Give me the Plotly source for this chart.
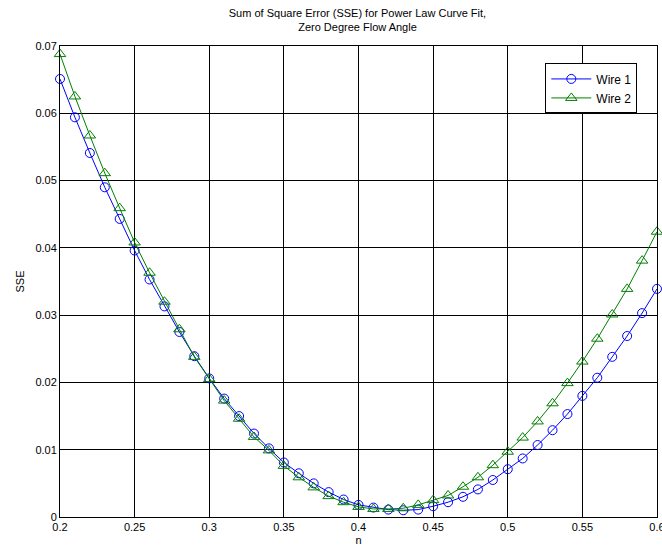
import plotly.graph_objects as go

n_values = [round(0.2 + 0.01 * i, 2) for i in range(41)]

wire1_sse = [0.0651, 0.0594, 0.0541, 0.0490, 0.0443, 0.0396, 0.0353, 0.0313, 0.0275, 0.0239,
             0.0206, 0.0176, 0.0150, 0.0124, 0.0102, 0.0081, 0.0065, 0.0050, 0.0037, 0.0026,
             0.0018, 0.0014, 0.0011, 0.0010, 0.0011, 0.0016, 0.0022, 0.0030, 0.0041, 0.0055,
             0.0071, 0.0087, 0.0107, 0.0129, 0.0153, 0.0180, 0.0207, 0.0238, 0.0269, 0.0303,
             0.0339]

wire2_sse = [0.0688, 0.0625, 0.0567, 0.0511, 0.0459, 0.0408, 0.0363, 0.0320, 0.0279, 0.0238,
             0.0205, 0.0173, 0.0146, 0.0119, 0.0099, 0.0076, 0.0059, 0.0044, 0.0031, 0.0022,
             0.0015, 0.0012, 0.0012, 0.0013, 0.0018, 0.0025, 0.0032, 0.0045, 0.0059, 0.0077,
             0.0097, 0.0118, 0.0142, 0.0169, 0.0199, 0.0231, 0.0265, 0.0301, 0.0339, 0.0381,
             0.0424]

x_ticks = [0.2, 0.25, 0.3, 0.35, 0.4, 0.45, 0.5, 0.55, 0.6]
x_tick_labels = ["0.2", "0.25", "0.3", "0.35", "0.4", "0.45", "0.5", "0.55", "0.6"]
y_ticks = [0, 0.01, 0.02, 0.03, 0.04, 0.05, 0.06, 0.07]
y_tick_labels = ["0", "0.01", "0.02", "0.03", "0.04", "0.05", "0.06", "0.07"]

font_family = "Liberation Sans, Arial, sans-serif"

fig = go.Figure()
fig.add_trace(go.Scatter(
    x=n_values, y=wire1_sse, mode="lines+markers", name="Wire 1",
    line=dict(color="#0000ff", width=1),
    marker=dict(symbol="circle-open", size=9, color="#0000ff", line=dict(width=1)),
    cliponaxis=False,
))
fig.add_trace(go.Scatter(
    x=n_values, y=wire2_sse, mode="lines+markers", name="Wire 2",
    line=dict(color="#008000", width=1),
    marker=dict(symbol="triangle-up-open", size=10, color="#008000", line=dict(width=1)),
    cliponaxis=False,
))

axis_common = dict(
    showline=True, linecolor="black", linewidth=1, mirror="ticks",
    showgrid=True, gridcolor="black", gridwidth=1,
    ticks="inside", ticklen=4, tickcolor="black",
    zeroline=False, ticklabeloverflow="allow", automargin=False,
    tickfont=dict(family=font_family, size=11, color="black"),
)

fig.update_layout(
    width=662, height=552,
    margin=dict(l=60, r=5, t=46, b=35),
    paper_bgcolor="white", plot_bgcolor="white",
    font=dict(family=font_family, size=11, color="black"),
    title=dict(
        text="Sum of Square Error (SSE) for Power Law Curve Fit,<br>Zero Degree Flow Angle",
        x=0.54, xanchor="center", y=0.970, yanchor="top",
        font=dict(family=font_family, size=11, color="black"),
    ),
    xaxis=dict(range=[0.2, 0.6], tickvals=x_ticks, ticktext=x_tick_labels,
               title=dict(text="n", standoff=4, font=dict(size=11)), **axis_common),
    yaxis=dict(range=[0, 0.07], tickvals=y_ticks, ticktext=y_tick_labels,
               title=dict(text="SSE", standoff=8, font=dict(size=11)), **axis_common),
    legend=dict(
        x=0.967, y=0.963, xanchor="right", yanchor="top",
        bgcolor="white", bordercolor="black", borderwidth=1,
        font=dict(family=font_family, size=12, color="black"),
        tracegroupgap=0, itemwidth=40,
    ),
    showlegend=True,
)

fig.write_html(
    "out.html",
    config={"displayModeBar": False},
    post_script="document.body.style.margin='0';document.body.style.overflow='hidden';",
)
